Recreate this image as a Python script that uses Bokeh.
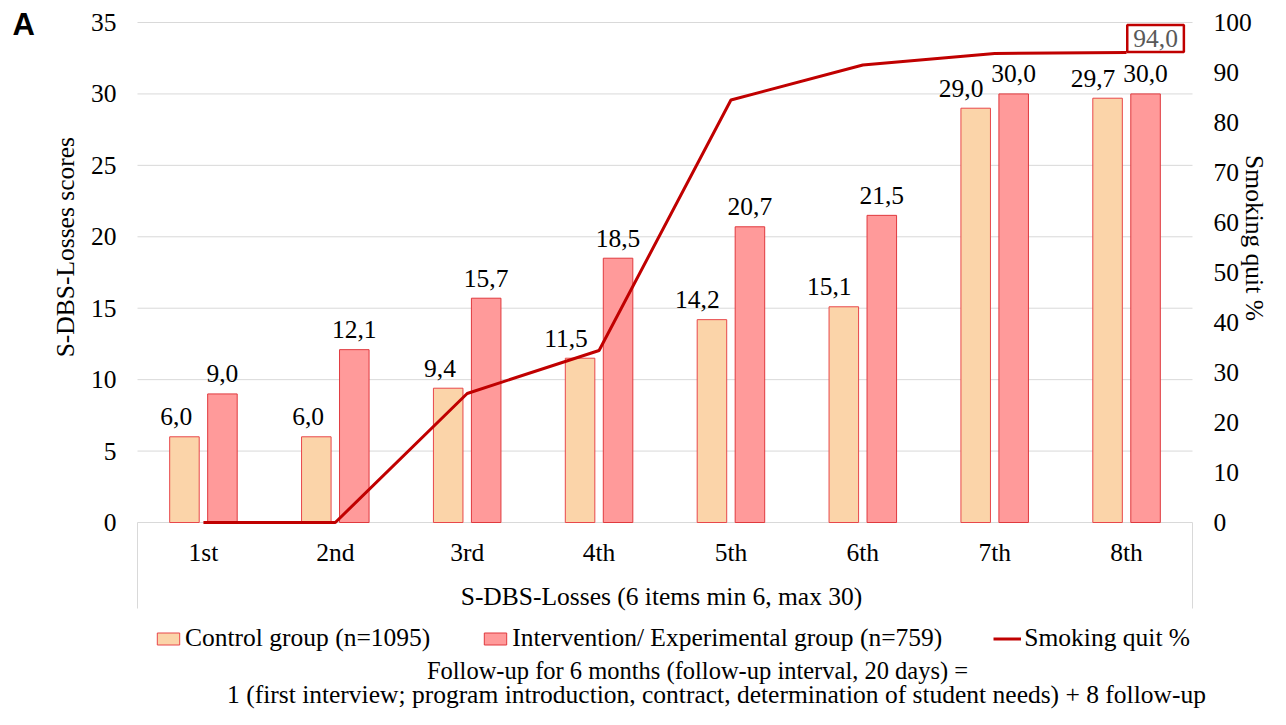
import math
from bokeh.plotting import figure
from bokeh.models import ColumnDataSource, Range1d, Label, Legend, LegendItem
from bokeh.core.properties import value
from bokeh.embed import file_html
from bokeh.resources import INLINE

# ---------------- data ----------------
categories = ["1st", "2nd", "3rd", "4th", "5th", "6th", "7th", "8th"]
control = [6.0, 6.0, 9.4, 11.5, 14.2, 15.1, 29.0, 29.7]
intervention = [9.0, 12.1, 15.7, 18.5, 20.7, 21.5, 30.0, 30.0]
quit_pct = [0.0, 0.0, 25.8, 34.4, 84.5, 91.5, 93.8, 94.0]
left_ticks = [0, 5, 10, 15, 20, 25, 30, 35]
right_ticks = [0, 10, 20, 30, 40, 50, 60, 70, 80, 90, 100]
series_names = ["Control group (n=1095)",
                "Intervention/ Experimental group (n=759)",
                "Smoking quit %"]
x_title = "S-DBS-Losses (6 items min 6, max 30)"
left_title = "S-DBS-Losses  scores"
right_title = "Smoking quit %"
footnotes = ["Follow-up for 6 months (follow-up interval, 20 days) =",
             "1 (first interview; program introduction, contract, determination of student needs) + 8 follow-up"]
panel_letter = "A"


def fmt(v):
    return f"{v:.1f}".replace(".", ",")


# ---------------- layout (pixels) ----------------
W, H = 1270, 709
FL, FR = 137, 1192          # plot area left / right
FT, Y0 = 22, 522            # plot area top, zero line
LMAX, RMAX = 35, 100
N = len(categories)
UX = (FR - FL) / N
PPU_L = (Y0 - FT) / LMAX
PPU_R = (Y0 - FT) / RMAX


def dx(px):          # pixel -> x data
    return (px - FL) / UX


def dy(py):          # pixel -> left y data
    return (Y0 - py) / PPU_L


SERIF = "Liberation Serif"
FS = "25.5px"
BAR_W = 0.224
OFF = 0.144
GRID = "#D9D9D9"
TXT = "#000000"

p = figure(width=W, height=H,
           x_range=Range1d(dx(0), dx(W)),
           y_range=Range1d(dy(H), dy(0)),
           x_axis_location=None, y_axis_location=None,
           min_border=0, min_border_left=0, min_border_right=0,
           min_border_top=0, min_border_bottom=0,
           output_backend="svg", toolbar_location=None)
p.outline_line_color = None
p.background_fill_color = "white"
p.border_fill_color = "white"
p.xgrid.visible = False
p.ygrid.visible = False
p.extra_y_ranges = {"pct": Range1d(-(H - Y0) / PPU_R, RMAX + FT / PPU_R)}

xc = [i + 0.5 for i in range(N)]
src = ColumnDataSource(dict(
    cat=categories, xc=xc,
    xctrl=[x - OFF for x in xc], xint=[x + OFF for x in xc],
    xctrl_edge=[x - OFF + BAR_W / 2 for x in xc],
    control=control, intervention=intervention, quit=quit_pct,
    cl=[fmt(v) for v in control], il=[fmt(v) for v in intervention]))

# horizontal gridlines (left scale)
gsrc = ColumnDataSource(dict(y=left_ticks, lab=[str(t) for t in left_ticks]))
p.segment(x0=0, x1=N, y0="y", y1="y", source=gsrc, line_color=GRID, line_width=1)
# category axis box sides
p.segment(x0=[0, N], x1=[0, N], y0=[0, 0], y1=[dy(608), dy(608)],
          line_color=GRID, line_width=1)

# left tick labels
p.text(x=dx(116), y="y", text="lab", source=gsrc, text_align="right",
       text_baseline="middle", text_font=value(SERIF), text_font_size=FS,
       text_color=TXT)
# right tick labels
rsrc = ColumnDataSource(dict(y=right_ticks, lab=[str(t) for t in right_ticks]))
p.text(x=dx(1213), y="y", text="lab", source=rsrc, y_range_name="pct",
       text_align="left", text_baseline="middle", text_font=value(SERIF),
       text_font_size=FS, text_color=TXT)

# bars and line
r_ctrl = p.vbar(x="xctrl", top="control", bottom=0, width=BAR_W, source=src,
                fill_color="#FBD4A9", line_color="#E8474A", line_width=1)
r_int = p.vbar(x="xint", top="intervention", bottom=0, width=BAR_W, source=src,
               fill_color="#FF9A9A", line_color="#E0393E", line_width=1)
r_line = p.line(x="xc", y="quit", y_range_name="pct", source=src,
                line_color="#C00000", line_width=3)

# data labels
p.text(x="xctrl_edge", y="control", text="cl", source=src, text_align="right",
       text_baseline="middle", x_offset=-7, y_offset=-20,
       text_font=value(SERIF), text_font_size=FS, text_color=TXT)
p.text(x="xint", y="intervention", text="il", source=src, text_align="center",
       text_baseline="middle", y_offset=-20,
       text_font=value(SERIF), text_font_size=FS, text_color=TXT)

# boxed label of the last line point
last = N - 1
p.add_layout(Label(x=xc[last] + 29 / UX, y=quit_pct[last] + 14 / PPU_R,
                   y_range_name="pct", text=fmt(quit_pct[last]),
                   text_align="center", text_baseline="middle",
                   text_font=SERIF, text_font_size=FS, text_color="#595959",
                   border_line_color="#C00000", border_line_width=2.5,
                   background_fill_color="white", padding=(6, 5)))

# category labels
p.text(x="xc", y=dy(552), text="cat", source=src, text_align="center",
       text_baseline="middle", text_font=value(SERIF), text_font_size=FS,
       text_color=TXT)


def txt(px, py, text, **kw):
    opts = dict(text_align="center", text_baseline="middle",
                text_font=value(SERIF), text_font_size=FS, text_color=TXT)
    opts.update(kw)
    p.text(x=[dx(px)], y=[dy(py)], text=[text], **opts)


# axis titles
txt(661, 596, x_title)
txt(65, 243.5, left_title, angle=math.pi / 2)
txt(1254, 237.5, right_title, angle=-math.pi / 2)

# footnotes
txt(697, 670, footnotes[0], text_font_size="24.5px")
txt(716, 694, footnotes[1])

# panel letter
txt(12, 23.5, panel_letter, text_align="left",
    text_font=value("Liberation Sans"), text_font_style="bold",
    text_font_size="31px")

# legend
legend = Legend(items=[LegendItem(label=series_names[0], renderers=[r_ctrl]),
                       LegendItem(label=series_names[1], renderers=[r_int]),
                       LegendItem(label=series_names[2], renderers=[r_line])],
                orientation="horizontal", location=(154, 56),
                glyph_width=28, glyph_height=15, label_standoff=3, spacing=51,
                padding=0, margin=0, border_line_color=None,
                background_fill_alpha=0, label_text_font=SERIF,
                label_text_font_size=FS, label_text_color=TXT)
p.add_layout(legend)

open("out.html", "w").write(file_html(p, INLINE))
